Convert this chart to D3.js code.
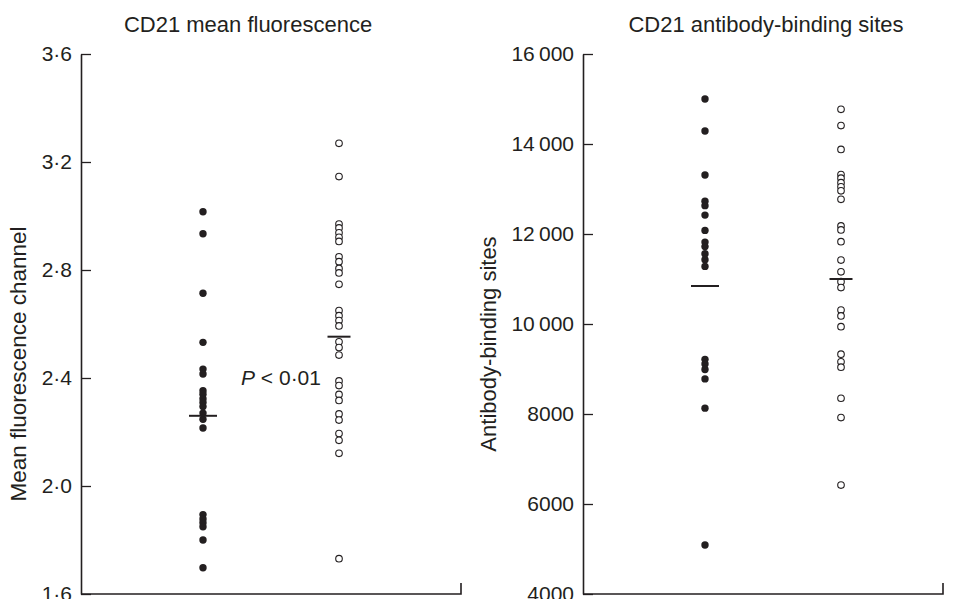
<!DOCTYPE html>
<html>
<head>
<meta charset="utf-8">
<script src="https://cdn.jsdelivr.net/npm/d3@7/dist/d3.min.js"></script>
<style>
  body { margin: 0; background: #fff; }
  svg { display: block; }
  text { font-family: "Liberation Sans", Arial, Helvetica, sans-serif; fill: #231f20; }
</style>
</head>
<body>
<svg id="chart" width="955" height="599"></svg>
<script>
// ---------- data ----------
const groups = ["patients", "controls"];

// Panel A: CD21 mean fluorescence channel
const fluorPatients = [3.016, 2.934, 2.714, 2.532, 2.433, 2.415, 2.353, 2.340, 2.323, 2.309,
                       2.294, 2.270, 2.247, 2.215, 1.894, 1.878, 1.864, 1.849, 1.800, 1.697];
const fluorControls = [3.269, 3.146, 2.970, 2.956, 2.938, 2.921, 2.906, 2.849, 2.831, 2.806,
                       2.789, 2.747, 2.650, 2.631, 2.613, 2.593, 2.534, 2.513, 2.485, 2.389,
                       2.372, 2.339, 2.317, 2.267, 2.244, 2.194, 2.169, 2.121, 1.731];
const fluorMeans = [2.260, 2.553];
const fluorTicks = [1.6, 2.0, 2.4, 2.8, 3.2, 3.6];
const fluorTickLabels = ["1·6", "2·0", "2·4", "2·8", "3·2", "3·6"];

// Panel B: CD21 antibody-binding sites
const absPatients = [15000, 14290, 13310, 12730, 12630, 12420, 12080, 11820, 11720, 11560,
                     11430, 11280, 9215, 9110, 8990, 8780, 8130, 5090];
const absControls = [14770, 14410, 13880, 13320, 13240, 13140, 13050, 12960, 12770, 12180,
                     12090, 11830, 11420, 11160, 10940, 10810, 10310, 10180, 9940, 9330,
                     9160, 9040, 8350, 7920, 6420];
const absMeans = [10844, 11000];
const absTicks = [4000, 6000, 8000, 10000, 12000, 14000, 16000];
const absTickLabels = ["4000", "6000", "8000", "10\u2009000", "12\u2009000", "14\u2009000", "16\u2009000"];

const titles = ["CD21 mean fluorescence", "CD21 antibody-binding sites"];
const yTitles = ["Mean fluorescence channel", "Antibody-binding sites"];
const pLabel = "< 0·01";

// ---------- drawing ----------
const svg = d3.select("#chart");
const plotTop = 54, plotBottom = 594;
const ink = "#231f20";

function panel(cfg) {
  const g = svg.append("g");
  const y = d3.scaleLinear().domain(cfg.domain).range([plotBottom, plotTop]);
  const x = d3.scalePoint().domain(groups).range([cfg.x0 + 122, cfg.x0 + 258]);

  // y axis, ticks pointing inward
  const ax = d3.axisLeft(y).tickValues(cfg.ticks)
    .tickFormat((d, i) => cfg.tickLabels[i])
    .tickSizeInner(-10).tickSizeOuter(0).tickPadding(9);
  const ag = g.append("g").attr("transform", `translate(${cfg.x0},0)`).call(ax);
  ag.select(".domain").attr("stroke", ink).attr("stroke-width", 1.6);
  ag.selectAll(".tick line").attr("stroke", ink).attr("stroke-width", 1.3);
  ag.selectAll(".tick text").attr("font-size", 21).attr("fill", ink)
    .attr("font-family", "Liberation Sans, Arial, sans-serif");

  // x baseline with end tick
  g.append("path")
    .attr("d", `M${cfg.x0},${plotBottom}H${cfg.x0 + cfg.axisW}V${plotBottom - 11}`)
    .attr("fill", "none").attr("stroke", ink).attr("stroke-width", 1.6);

  // titles
  g.append("text").attr("x", cfg.titleX).attr("y", 32)
    .attr("text-anchor", "middle").attr("font-size", 22).text(cfg.title);
  g.append("text")
    .attr("transform", `translate(${cfg.yTitleX},${cfg.yTitleY}) rotate(-90)`)
    .attr("text-anchor", "middle").attr("font-size", cfg.yTitleSize).text(cfg.yTitle);

  // points
  g.selectAll("circle.pat").data(cfg.patients).join("circle")
    .attr("class", "pat")
    .attr("cx", x("patients")).attr("cy", d => y(d)).attr("r", 3.7)
    .attr("fill", ink);
  g.selectAll("circle.ctl").data(cfg.controls).join("circle")
    .attr("class", "ctl")
    .attr("cx", x("controls")).attr("cy", d => y(d)).attr("r", 3.3)
    .attr("fill", "#fff").attr("stroke", ink).attr("stroke-width", 1.1);

  // mean lines
  const halfW = [14, 11.5];
  g.selectAll("line.mean").data(cfg.means).join("line")
    .attr("class", "mean")
    .attr("x1", (d, i) => x(groups[i]) - halfW[i])
    .attr("x2", (d, i) => x(groups[i]) + halfW[i])
    .attr("y1", d => y(d)).attr("y2", d => y(d))
    .attr("stroke", ink).attr("stroke-width", 2);
  return { g, x, y };
}

const A = panel({
  x0: 81, axisW: 380, domain: [1.6, 3.6], ticks: fluorTicks, tickLabels: fluorTickLabels,
  patients: fluorPatients, controls: fluorControls, means: fluorMeans,
  title: titles[0], titleX: 248, yTitle: yTitles[0], yTitleX: 26, yTitleY: 364, yTitleSize: 22.5
});
const B = panel({
  x0: 583, axisW: 360, domain: [4000, 16000], ticks: absTicks, tickLabels: absTickLabels,
  patients: absPatients, controls: absControls, means: absMeans,
  title: titles[1], titleX: 766, yTitle: yTitles[1], yTitleX: 496, yTitleY: 344, yTitleSize: 22
});

// P value annotation
const pt = A.g.append("text").attr("x", 241).attr("y", 385).attr("font-size", 21);
pt.append("tspan").attr("font-style", "italic").text("P");
pt.append("tspan").text(" " + pLabel);
</script>
</body>
</html>
